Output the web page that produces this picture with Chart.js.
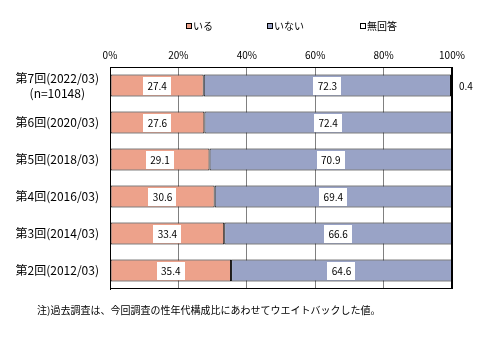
<!DOCTYPE html>
<html>
<head>
<meta charset="utf-8">
<script src="https://cdn.jsdelivr.net/npm/chart.js@4"></script>
<style>
  html, body { margin: 0; padding: 0; background: #fff; }
  #wrap { width: 492px; height: 346px; position: relative; }
</style>
</head>
<body>
<div id="wrap"><canvas id="barChart"></canvas></div>
<script>
const FONT = '"Noto Sans CJK JP", "Noto Sans", sans-serif';

const categories = [
  ['第7回(2022/03)', '(n=10148)'],
  '第6回(2020/03)',
  '第5回(2018/03)',
  '第4回(2016/03)',
  '第3回(2014/03)',
  '第2回(2012/03)'
];
const seriesNames = ['いる', 'いない', '無回答'];
const iruValues = [27.4, 27.6, 29.1, 30.6, 33.4, 35.4];
const inaiValues = [72.3, 72.4, 70.9, 69.4, 66.6, 64.6];
const mukaitouValues = [0.4, 0, 0, 0, 0, 0];
const xTickValues = [0, 20, 40, 60, 80, 100];
const footnote = '注)過去調査は、今回調査の性年代構成比にあわせてウエイトバックした値。';

const colors = ['#EDA28B', '#99A3C6', '#FFFFFF'];

// legend + value labels + frame + footnote
const decor = {
  id: 'decor',
  afterDatasetsDraw(chart) {
    const ctx = chart.ctx;
    const area = chart.chartArea;
    ctx.save();
    ctx.strokeStyle = '#000';
    ctx.lineWidth = 1;
    ctx.strokeRect(Math.round(area.left) + 0.5, Math.round(area.top) + 0.5,
      Math.round(area.right - area.left) - 1, Math.round(area.bottom - area.top) - 1);

    ctx.font = '10px ' + FONT;
    ctx.textBaseline = 'middle';
    chart.data.datasets.forEach((ds, di) => {
      const meta = chart.getDatasetMeta(di);
      meta.data.forEach((bar, i) => {
        const v = ds.data[i];
        if (!v) return;
        const txt = v.toFixed(1);
        if (di < 2) {
          const cx = (bar.base + bar.x) / 2;
          const w = ctx.measureText(txt).width + 9;
          ctx.fillStyle = '#fff';
          ctx.fillRect(Math.round(cx - w / 2), Math.round(bar.y - 9), Math.round(w), 18);
          ctx.fillStyle = '#000';
          ctx.textAlign = 'center';
          ctx.fillText(txt, cx, bar.y + 0.5);
        } else {
          ctx.fillStyle = '#000';
          ctx.textAlign = 'left';
          ctx.fillText(txt, area.right + 7, bar.y + 0.5);
        }
      });
    });
    ctx.restore();
  },
  afterDraw(chart) {
    const ctx = chart.ctx;
    ctx.save();
    // legend
    const legendX = [185, 266, 359];
    ctx.font = '10px ' + FONT;
    ctx.textBaseline = 'middle';
    ctx.textAlign = 'left';
    seriesNames.forEach((name, i) => {
      const x = legendX[i];
      ctx.fillStyle = colors[i];
      ctx.fillRect(x + 1, 23, 6, 6);
      ctx.strokeStyle = '#000';
      ctx.lineWidth = 1;
      ctx.strokeRect(x + 1.5, 23.5, 5, 5);
      ctx.fillStyle = '#000';
      ctx.fillText(name, x + 8, 26.5);
    });
    // footnote
    ctx.font = '10px ' + FONT;
    ctx.fillText(footnote, 37, 310);
    ctx.restore();
  }
};

const ctx = document.getElementById('barChart').getContext('2d');
new Chart(ctx, {
  type: 'bar',
  data: {
    labels: categories,
    datasets: [
      { label: seriesNames[0], data: iruValues, backgroundColor: colors[0] },
      { label: seriesNames[1], data: inaiValues, backgroundColor: colors[1] },
      { label: seriesNames[2], data: mukaitouValues, backgroundColor: colors[2] }
    ].map(d => Object.assign(d, {
      borderColor: '#000',
      borderWidth: 1,
      borderSkipped: false,
      barPercentage: 0.59,
      categoryPercentage: 1
    }))
  },
  options: {
    indexAxis: 'y',
    responsive: true,
    maintainAspectRatio: false,
    animation: false,
    layout: { padding: { left: 0, right: 40, top: 0, bottom: 57 } },
    plugins: {
      legend: { display: false },
      tooltip: { enabled: false }
    },
    scales: {
      x: {
        position: 'top',
        stacked: true,
        min: 0,
        max: 100,
        afterFit: scale => { scale.height = 67; },
        afterBuildTicks: scale => { scale.ticks = xTickValues.map(v => ({ value: v })); },
        ticks: {
          padding: 6,
          color: '#000',
          font: { family: FONT, size: 10 },
          callback: v => v + '%'
        },
        grid: {
          drawTicks: false,
          color: c => (c.index === 0 || c.index === xTickValues.length - 1) ? '#000' : '#808080'
        },
        border: { color: '#000' }
      },
      y: {
        stacked: true,
        afterFit: scale => { scale.width = 110; },
        ticks: {
          crossAlign: 'center',
          padding: 11,
          color: '#000',
          font: { family: FONT, size: 12, lineHeight: 1.25 }
        },
        grid: { display: false, drawTicks: false },
        border: { color: '#000' }
      }
    }
  },
  plugins: [decor]
});
</script>
</body>
</html>
